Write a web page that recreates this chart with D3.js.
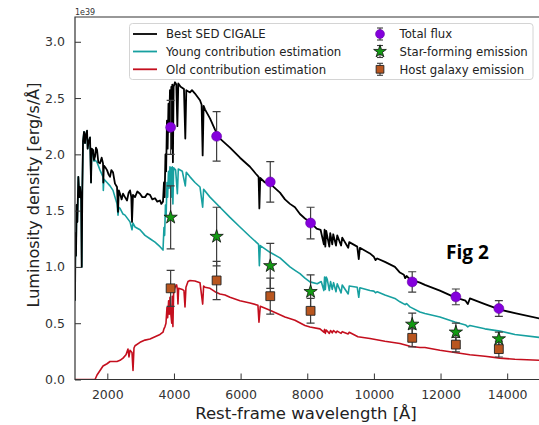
<!DOCTYPE html>
<html>
<head>
<meta charset="utf-8">
<script src="https://cdn.jsdelivr.net/npm/d3@7"></script>
<style>
  body { margin: 0; background: #fff; }
  svg { display: block; }
</style>
</head>
<body>
<script>
// spectra: [wavelength (Å), luminosity density (1e39 erg/s/Å)]
var bestSED = [[1030,0.70],[1045,1.30],[1060,1.10],[1080,1.55],[1100,1.40],[1130,1.80],[1160,1.62],[1181,1.71],[1215,1.60],[1232,1.00],[1250,1.70],[1271,2.12],[1301,2.20],[1330,2.10],[1352,2.17],[1391,2.21],[1410,2.05],[1430,2.10],[1481,2.15],[1511,1.75],[1530,2.05],[1571,2.04],[1600,1.95],[1631,1.98],[1660,2.06],[1691,2.04],[1730,1.93],[1781,1.92],[1830,1.97],[1871,1.92],[1880,1.75],[1895,1.90],[1950,1.88],[1991,1.86],[2040,1.82],[2081,1.80],[2120,1.86],[2171,1.84],[2230,1.74],[2291,1.71],[2321,1.49],[2345,1.68],[2381,1.65],[2430,1.60],[2471,1.65],[2530,1.62],[2591,1.59],[2640,1.66],[2681,1.68],[2720,1.62],[2741,1.40],[2770,1.64],[2831,1.62],[2900,1.67],[2981,1.65],[3050,1.62],[3131,1.62],[3200,1.65],[3281,1.64],[3350,1.60],[3431,1.61],[3500,1.58],[3581,1.59],[3620,1.56],[3671,1.58],[3700,1.75],[3720,1.62],[3745,2.00],[3765,1.85],[3790,2.30],[3810,2.05],[3835,2.45],[3855,2.20],[3880,2.57],[3900,2.30],[3920,2.60],[3934,2.05],[3950,2.62],[3968,1.93],[3990,2.60],[4031,2.64],[4070,2.62],[4102,2.25],[4130,2.63],[4200,2.60],[4300,2.58],[4340,2.14],[4370,2.57],[4481,2.55],[4541,2.57],[4631,2.54],[4781,2.48],[4830,2.44],[4861,1.99],[4890,2.43],[4931,2.40],[5081,2.32],[5231,2.22],[5381,2.14],[5531,2.10],[5681,2.06],[5981,1.97],[6281,1.89],[6450,1.83],[6540,1.80],[6563,1.52],[6590,1.79],[6731,1.75],[6881,1.74],[7181,1.66],[7331,1.60],[7481,1.56],[7631,1.53],[7781,1.47],[7931,1.43],[8081,1.40],[8282,1.34],[8400,1.33],[8498,1.20],[8520,1.33],[8542,1.18],[8570,1.32],[8662,1.18],[8690,1.30],[8750,1.20],[8780,1.29],[8863,1.19],[8900,1.28],[9015,1.19],[9050,1.26],[9229,1.17],[9260,1.22],[9500,1.18],[9546,1.07],[9580,1.17],[9881,1.12],[10000,1.09],[10049,1.06],[10100,1.075],[10331,1.045],[10631,1.00],[10781,0.95],[10900,0.93],[10938,0.90],[10980,0.92],[11081,0.89],[11381,0.86],[11531,0.84],[11981,0.79],[12431,0.73],[12750,0.70],[12818,0.67],[12881,0.72],[13331,0.67],[13781,0.62],[14231,0.59],[15000,0.54]];

var youngSED = [[1030,0.70],[1045,1.30],[1060,1.10],[1080,1.55],[1100,1.40],[1130,1.80],[1160,1.62],[1181,1.71],[1215,1.60],[1232,1.00],[1250,1.70],[1271,2.12],[1301,2.20],[1330,2.10],[1352,2.17],[1391,2.21],[1410,2.05],[1430,2.10],[1481,2.15],[1511,1.75],[1530,2.05],[1571,2.02],[1600,1.94],[1631,1.95],[1691,1.93],[1781,1.86],[1871,1.80],[1880,1.68],[1895,1.78],[1991,1.75],[2081,1.72],[2171,1.68],[2230,1.62],[2291,1.56],[2321,1.46],[2345,1.53],[2381,1.52],[2471,1.47],[2531,1.46],[2681,1.40],[2741,1.33],[2770,1.39],[2831,1.355],[2981,1.33],[3131,1.28],[3281,1.25],[3431,1.22],[3581,1.18],[3671,1.15],[3700,1.35],[3720,1.28],[3745,1.55],[3765,1.45],[3790,1.75],[3810,1.62],[3835,1.85],[3855,1.70],[3880,1.89],[3900,1.72],[3920,1.88],[3934,1.62],[3950,1.89],[3968,1.56],[3990,1.88],[4050,1.86],[4102,1.65],[4130,1.87],[4250,1.85],[4340,1.72],[4370,1.84],[4481,1.80],[4631,1.75],[4781,1.71],[4861,1.53],[4890,1.69],[5081,1.62],[5381,1.53],[5681,1.44],[5981,1.355],[6281,1.27],[6540,1.20],[6563,1.01],[6590,1.19],[6881,1.13],[7181,1.08],[7331,1.04],[7481,1.00],[7631,0.97],[7781,0.94],[7931,0.90],[8081,0.867],[8300,0.85],[8420,0.87],[8498,0.79],[8520,0.91],[8542,0.80],[8570,0.91],[8600,0.89],[8662,0.79],[8700,0.87],[8750,0.80],[8790,0.86],[8863,0.78],[8900,0.85],[9015,0.77],[9050,0.84],[9229,0.76],[9260,0.83],[9500,0.82],[9546,0.73],[9580,0.815],[9881,0.79],[10000,0.785],[10049,0.77],[10100,0.78],[10331,0.75],[10631,0.72],[10781,0.69],[10938,0.665],[10980,0.675],[11081,0.645],[11381,0.60],[11531,0.586],[11981,0.556],[12431,0.51],[12750,0.485],[12818,0.467],[12881,0.48],[13331,0.45],[13781,0.43],[14231,0.40],[15000,0.373]];

var oldSED = [[1030,0],[1631,0],[1691,0.04],[1781,0.08],[1871,0.12],[1991,0.14],[2081,0.16],[2171,0.16],[2291,0.16],[2381,0.17],[2471,0.19],[2560,0.22],[2620,0.27],[2650,0.20],[2681,0.26],[2741,0.24],[2771,0.08],[2800,0.28],[2831,0.30],[2981,0.33],[3131,0.35],[3281,0.36],[3431,0.38],[3581,0.40],[3671,0.42],[3700,0.45],[3731,0.47],[3760,0.50],[3790,0.64],[3810,0.55],[3840,0.70],[3860,0.58],[3881,0.73],[3900,0.60],[3934,0.50],[3950,0.74],[3968,0.47],[3990,0.78],[4031,0.82],[4080,0.84],[4102,0.80],[4120,0.67],[4140,0.81],[4250,0.80],[4300,0.79],[4331,0.645],[4360,0.82],[4421,0.87],[4481,0.88],[4631,0.875],[4781,0.86],[4862,0.67],[4890,0.83],[4931,0.82],[5081,0.81],[5231,0.78],[5381,0.76],[5531,0.75],[5681,0.73],[5981,0.70],[6281,0.68],[6520,0.66],[6551,0.51],[6590,0.65],[6881,0.615],[7331,0.556],[7631,0.527],[7931,0.48],[8081,0.467],[8381,0.45],[8498,0.42],[8520,0.445],[8542,0.41],[8570,0.44],[8662,0.41],[8700,0.435],[8750,0.415],[8790,0.435],[8863,0.415],[8900,0.43],[9015,0.41],[9050,0.425],[9229,0.405],[9260,0.42],[9521,0.38],[9881,0.364],[10331,0.34],[10781,0.32],[11081,0.296],[11381,0.284],[11531,0.284],[11981,0.26],[12431,0.24],[12881,0.22],[13331,0.207],[13781,0.19],[14231,0.18],[15000,0.17]];

// photometric points
var bandWave   = [3900, 5280, 6890, 8100, 11150, 12460, 13750];
var totalFlux  = [2.24, 2.16, 1.755, 1.39, 0.867, 0.734, 0.63];
var totalErr   = [0.24, 0.22, 0.18, 0.14, 0.09, 0.07, 0.07];
var starForm   = [1.44, 1.27, 1.01, 0.78, 0.49, 0.42, 0.36];
var starErr    = [0.28, 0.26, 0.20, 0.15, 0.10, 0.08, 0.06];
var hostGal    = [0.81, 0.88, 0.74, 0.61, 0.37, 0.31, 0.27];
var hostErr    = [0.16, 0.17, 0.16, 0.11, 0.08, 0.065, 0.07];

var xTicks = [2000, 4000, 6000, 8000, 10000, 12000, 14000];
var yTicks = [0.0, 0.5, 1.0, 1.5, 2.0, 2.5, 3.0];

var width = 539, height = 425;
var plotL = 75, plotT = 17, plotR = 540.5, plotB = 379.5;

var svg = d3.select("body").append("svg")
    .attr("width", width)
    .attr("height", height)
    .style("font-family", "'DejaVu Sans', sans-serif");

var x = d3.scaleLinear().domain([1030, 15000]).range([plotL, plotR]);
var y = d3.scaleLinear().domain([0, 3.22]).range([plotB, plotT]);

svg.append("clipPath").attr("id", "plot")
  .append("rect")
    .attr("x", plotL).attr("y", plotT)
    .attr("width", plotR - plotL).attr("height", plotB - plotT);

var line = d3.line()
    .x(function(d){ return x(d[0]); })
    .y(function(d){ return y(d[1]); });

var plot = svg.append("g").attr("clip-path", "url(#plot)");

//spectra
var spectra = [
    {data: youngSED, color: "#17a0a0", w: 1.6},
    {data: oldSED,   color: "#c40f1e", w: 1.6},
    {data: bestSED,  color: "#000000", w: 1.8}
];
spectra.forEach(function(s){
    plot.append("path")
        .datum(s.data)
        .attr("fill", "none")
        .attr("stroke", s.color)
        .attr("stroke-width", s.w)
        .attr("stroke-linejoin", "round")
        .attr("d", line);
});

//error bars
function errorbars(vals, errs){
    var g = plot.append("g")
        .attr("stroke", "#3c3c3c")
        .attr("stroke-width", 1.2);
    bandWave.forEach(function(w, i){
        var cx = x(w), y0 = y(vals[i] - errs[i]), y1 = y(vals[i] + errs[i]);
        g.append("line").attr("x1", cx).attr("x2", cx).attr("y1", y0).attr("y2", y1);
        g.append("line").attr("x1", cx - 4).attr("x2", cx + 4).attr("y1", y0).attr("y2", y0);
        g.append("line").attr("x1", cx - 4).attr("x2", cx + 4).attr("y1", y1).attr("y2", y1);
    });
}
errorbars(totalFlux, totalErr);
errorbars(starForm, starErr);
errorbars(hostGal, hostErr);

var starSym = d3.symbol().type(d3.symbolStar).size(55);
var squareSym = d3.symbol().type(d3.symbolSquare).size(78);

plot.selectAll(".host")
    .data(bandWave)
    .enter()
    .append("path")
    .attr("class", "host")
    .attr("transform", function(d, i){ return "translate(" + x(d) + "," + y(hostGal[i]) + ")"; })
    .attr("d", squareSym)
    .attr("fill", "#b9561f")
    .attr("stroke", "#222")
    .attr("stroke-width", 0.9);

plot.selectAll(".star")
    .data(bandWave)
    .enter()
    .append("path")
    .attr("class", "star")
    .attr("transform", function(d, i){ return "translate(" + x(d) + "," + y(starForm[i]) + ")"; })
    .attr("d", starSym)
    .attr("fill", "#139a13")
    .attr("stroke", "#111")
    .attr("stroke-width", 0.8);

plot.selectAll(".total")
    .data(bandWave)
    .enter()
    .append("circle")
    .attr("class", "total")
    .attr("cx", function(d){ return x(d); })
    .attr("cy", function(d, i){ return y(totalFlux[i]); })
    .attr("r", 5)
    .attr("fill", "#8400dc")
    .attr("stroke", "#5c0099")
    .attr("stroke-width", 0.5);

//axes
var xAxis = svg.append("g")
    .attr("transform", "translate(0," + plotB + ")")
    .call(d3.axisBottom(x).tickValues(xTicks).tickFormat(d3.format("d"))
        .tickSizeInner(-6).tickSizeOuter(0).tickPadding(11));

var yAxis = svg.append("g")
    .attr("transform", "translate(" + plotL + ",0)")
    .call(d3.axisLeft(y).tickValues(yTicks).tickFormat(d3.format(".1f"))
        .tickSizeInner(-6).tickSizeOuter(0).tickPadding(10));

[xAxis, yAxis].forEach(function(a){
    a.select(".domain").remove();
    a.selectAll("line").attr("stroke", "#333").attr("stroke-width", 1);
    a.selectAll("text").attr("fill", "#333").style("font-size", "12.5px").style("font-family", "'DejaVu Sans', sans-serif");
});

//frame
svg.append("path")
    .attr("d", "M" + plotR + "," + plotT + "H" + plotL + "V" + plotB + "H" + plotR)
    .attr("fill", "none")
    .attr("stroke", "#333")
    .attr("stroke-width", 1.2);

svg.append("text")
    .attr("x", plotL).attr("y", 14.5)
    .style("font-size", "8px")
    .attr("fill", "#333")
    .text("1e39");

svg.append("text")
    .attr("transform", "translate(39,195) rotate(-90)")
    .attr("text-anchor", "middle")
    .style("font-size", "16px")
    .attr("fill", "#222")
    .text("Luminosity density [erg/s/Å]");

svg.append("text")
    .attr("x", 306).attr("y", 419)
    .attr("text-anchor", "middle")
    .style("font-size", "16.5px")
    .attr("fill", "#222")
    .text("Rest-frame wavelength [Å]");

svg.append("text")
    .attr("x", 446).attr("y", 259)
    .style("font-family", "'Open Sans', sans-serif")
    .style("font-weight", 700)
    .style("font-size", "19px")
    .attr("fill", "#000")
    .text("Fig 2");

//legend
var legend = svg.append("g");
legend.append("rect")
    .attr("x", 129.5).attr("y", 23.5)
    .attr("width", 403.5).attr("height", 56)
    .attr("rx", 3)
    .attr("fill", "#fff").attr("fill-opacity", 0.85)
    .attr("stroke", "#d4d4d4");

var lineItems = [
    {label: "Best SED CIGALE", color: "#000000"},
    {label: "Young contribution estimation", color: "#17a0a0"},
    {label: "Old contribution estimation", color: "#c40f1e"}
];
var rowY = [34, 51.5, 69.3];
lineItems.forEach(function(it, i){
    legend.append("line")
        .attr("x1", 133).attr("x2", 157)
        .attr("y1", rowY[i]).attr("y2", rowY[i])
        .attr("stroke", it.color).attr("stroke-width", 1.8);
    legend.append("text")
        .attr("x", 166).attr("y", rowY[i] + 4.3)
        .style("font-size", "11.7px")
        .attr("fill", "#222")
        .text(it.label);
});

var markerItems = ["Total flux", "Star-forming emission", "Host galaxy emission"];
markerItems.forEach(function(label, i){
    var cy = rowY[i], cx = 380;
    var g = legend.append("g").attr("stroke", "#3c3c3c").attr("stroke-width", 1.1);
    g.append("line").attr("x1", cx).attr("x2", cx).attr("y1", cy - 6).attr("y2", cy + 6);
    g.append("line").attr("x1", cx - 3).attr("x2", cx + 3).attr("y1", cy - 6).attr("y2", cy - 6);
    g.append("line").attr("x1", cx - 3).attr("x2", cx + 3).attr("y1", cy + 6).attr("y2", cy + 6);
    if (i === 0) {
        legend.append("circle").attr("cx", cx).attr("cy", cy).attr("r", 4.5)
            .attr("fill", "#8400dc").attr("stroke", "#5c0099").attr("stroke-width", 0.5);
    } else if (i === 1) {
        legend.append("path").attr("transform", "translate(" + cx + "," + cy + ")")
            .attr("d", d3.symbol().type(d3.symbolStar).size(50))
            .attr("fill", "#139a13").attr("stroke", "#111").attr("stroke-width", 0.8);
    } else {
        legend.append("path").attr("transform", "translate(" + cx + "," + cy + ")")
            .attr("d", d3.symbol().type(d3.symbolSquare).size(60))
            .attr("fill", "#b9561f").attr("stroke", "#222").attr("stroke-width", 0.9);
    }
    legend.append("text")
        .attr("x", 399.5).attr("y", cy + 4.3)
        .style("font-size", "11.7px")
        .attr("fill", "#222")
        .text(label);
});
</script>
</body>
</html>
